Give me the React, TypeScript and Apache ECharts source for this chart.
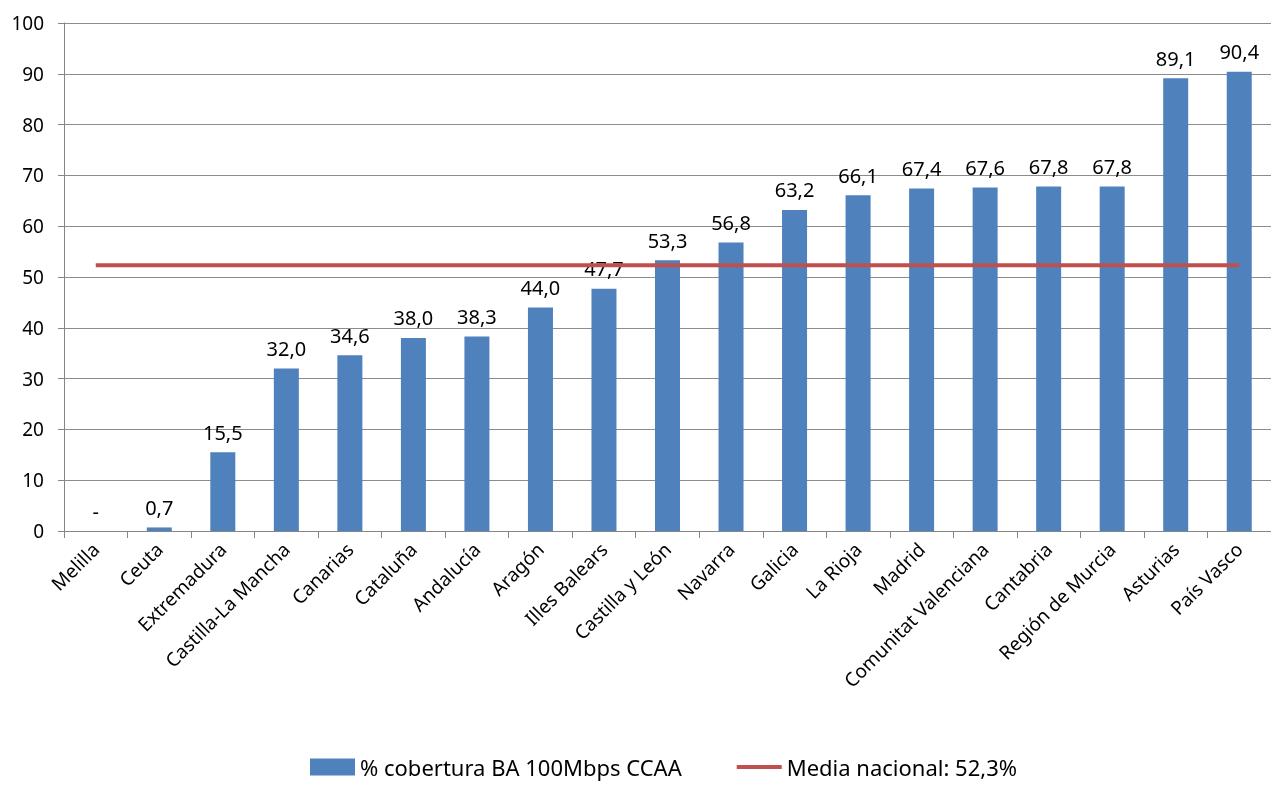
import React, { useEffect, useRef } from "react";
import * as echarts from "echarts";

const categories = [
  "Melilla", "Ceuta", "Extremadura", "Castilla-La Mancha", "Canarias", "Cataluña",
  "Andalucía", "Aragón", "Illes Balears", "Castilla y León", "Navarra", "Galicia",
  "La Rioja", "Madrid", "Comunitat Valenciana", "Cantabria", "Región de Murcia",
  "Asturias", "País Vasco",
];
const coverage = [0, 0.7, 15.5, 32.0, 34.6, 38.0, 38.3, 44.0, 47.7, 53.3, 56.8, 63.2, 66.1, 67.4, 67.6, 67.8, 67.8, 89.1, 90.4];
const nationalAverage = 52.3;
const averageLine = categories.map(() => nationalAverage);

const barName = "% cobertura BA 100Mbps CCAA";
const lineName = "Media nacional: 52,3%";
const FONT = "'Noto Sans', sans-serif";

export default function App() {
  const ref = useRef<HTMLDivElement>(null);
  useEffect(() => {
    if (!ref.current) return;
    const chart = echarts.init(ref.current, null, { renderer: "svg" });
    chart.setOption({
      animation: false,
      textStyle: { fontFamily: FONT },
      grid: { left: 64, top: 23, width: 1216, height: 508 },
      legend: {
        top: 756,
        left: 310,
        padding: 0,
        itemWidth: 45,
        itemHeight: 17,
        itemGap: 55,
        symbolKeepAspect: true,
        textStyle: { fontSize: 22, color: "#000", fontFamily: FONT },
        data: [
          { name: barName, icon: "rect" },
          { name: lineName, icon: "path://M0,0 H100 V9 H0 Z" },
        ],
      },
      xAxis: {
        type: "category",
        data: categories,
        axisLine: { lineStyle: { color: "#868686", width: 1 } },
        axisTick: { show: true, length: 7, lineStyle: { color: "#868686" } },
        axisLabel: { rotate: 45, fontSize: 19, color: "#000", interval: 0, margin: 15, fontFamily: FONT },
      },
      yAxis: {
        type: "value",
        min: 0,
        max: 100,
        interval: 10,
        axisLine: { show: true, lineStyle: { color: "#868686" } },
        axisTick: { show: true, length: 6, lineStyle: { color: "#868686" } },
        splitLine: { show: true, lineStyle: { color: "#8c8c8c", width: 1 } },
        axisLabel: { fontSize: 19, color: "#000", margin: 20, fontFamily: FONT },
      },
      series: [
        {
          name: barName,
          type: "bar",
          data: coverage,
          barWidth: 25,
          itemStyle: { color: "#4F81BD" },
          label: {
            show: true,
            position: "top",
            distance: 10,
            fontSize: 20,
            color: "#000",
            fontFamily: FONT,
            formatter: (p: any) => (p.value === 0 ? "-" : Number(p.value).toFixed(1).replace(".", ",")),
          },
        },
        {
          name: lineName,
          type: "line",
          data: averageLine,
          symbol: "none",
          lineStyle: { color: "#C0504D", width: 4 },
          itemStyle: { color: "#C0504D" },
        },
      ],
    });
    return () => chart.dispose();
  }, []);
  return <div ref={ref} style={{ position: "fixed", left: 0, top: 0, width: 1271, height: 786 }} />;
}
